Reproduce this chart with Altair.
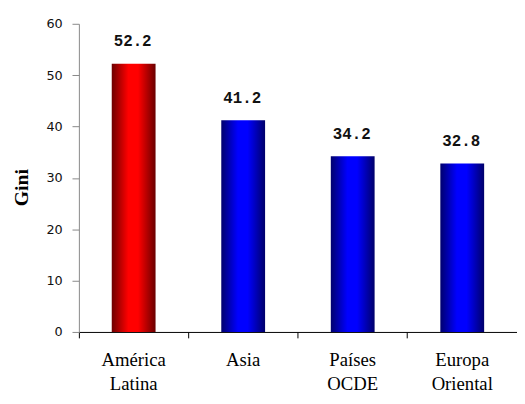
import altair as alt
import pandas as pd

categories = ["América Latina", "Asia", "Países OCDE", "Europa Oriental"]
gini = [52.2, 41.2, 34.2, 32.8]
region_group = ["latam", "other", "other", "other"]
y_ticks = [0, 10, 20, 30, 40, 50, 60]

df = pd.DataFrame({"region": categories, "gini": gini, "group": region_group})


def grad(dark, bright, dark2):
    return alt.LinearGradient(
        gradient="linear", x1=0, x2=1, y1=0, y2=0,
        stops=[
            alt.GradientStop(offset=0, color=dark),
            alt.GradientStop(offset=0.38, color=bright),
            alt.GradientStop(offset=0.6, color=bright),
            alt.GradientStop(offset=1, color=dark2),
        ],
    )


x = alt.X(
    "region:N",
    sort=categories,
    scale=alt.Scale(paddingInner=0.6, paddingOuter=0.3),
    axis=alt.Axis(
        title=None, labelAngle=0, labelExpr="split(datum.label, ' ')",
        labelFont="Liberation Serif", labelFontSize=19, labelColor="black",
        labelLineHeight=24, labelPadding=13, tickSize=6, tickColor="#000",
        domainColor="#000", bandPosition=-0.75, labelBound=False, labelOverlap=False,
    ),
)
y = alt.Y(
    "gini:Q",
    scale=alt.Scale(domain=[0, 60]),
    axis=alt.Axis(
        values=y_ticks, grid=False, title="Gini",
        titleFont="Liberation Serif", titleFontWeight="bold", titleFontSize=20,
        titleColor="black", titleX=-48, titleY=166,
        labelFont="DejaVu Sans", labelFontSize=13, labelColor="#111",
        labelPadding=10, tickSize=7, tickColor="#888", domainColor="#888",
    ),
)

base = alt.Chart(df)
red_bars = base.transform_filter("datum.group == 'latam'").mark_bar(
    fill=grad("#6e0000", "#ff0000", "#6a0000")
).encode(x=x, y=y)
blue_bars = base.transform_filter("datum.group == 'other'").mark_bar(
    fill=grad("#00006e", "#0000ff", "#00006a")
).encode(x=x, y=y)
labels = base.mark_text(
    dy=-18, dx=-1, font="Liberation Mono", fontWeight="bold", fontSize=16,
    baseline="alphabetic", color="#111",
).encode(x=x, y=y, text=alt.Text("gini:Q", format=".1f"))

chart = (
    alt.layer(red_bars, blue_bars, labels)
    .properties(
        width=445, height=313,
        autosize=alt.AutoSizeParams(type="none"),
        padding={"left": 72, "top": 13, "right": 0, "bottom": 62},
        background="white",
    )
    .configure_view(stroke=None)
)

chart.save("out.html", embed_options={"renderer": "svg", "actions": False})
